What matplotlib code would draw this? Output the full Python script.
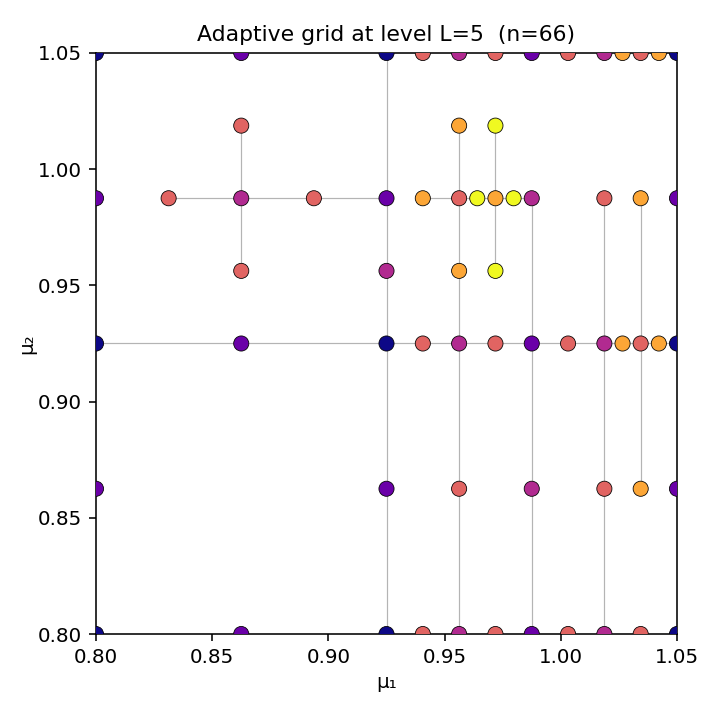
import matplotlib
matplotlib.use("Agg")
import matplotlib.pyplot as plt
import numpy as np

# grid points (mu1, mu2) and hierarchical level sum (colour)
mu1 = [
    # row mu2 = 1.05
    0.8, 0.8625, 0.925, 0.940625, 0.95625, 0.971875, 0.9875, 1.003125, 1.01875, 1.0265625, 1.034375, 1.0421875, 1.05,
    # row mu2 = 1.01875
    0.8625, 0.95625, 0.971875,
    # row mu2 = 0.9875
    0.8, 0.83125, 0.8625, 0.89375, 0.925, 0.940625, 0.95625, 0.9640625, 0.971875, 0.9796875, 0.9875, 1.01875, 1.034375, 1.05,
    # row mu2 = 0.95625
    0.8625, 0.925, 0.95625, 0.971875,
    # row mu2 = 0.925
    0.8, 0.8625, 0.925, 0.940625, 0.95625, 0.971875, 0.9875, 1.003125, 1.01875, 1.0265625, 1.034375, 1.0421875, 1.05,
    # row mu2 = 0.8625
    0.8, 0.925, 0.95625, 0.9875, 1.01875, 1.034375, 1.05,
    # row mu2 = 0.8
    0.8, 0.8625, 0.925, 0.940625, 0.95625, 0.971875, 0.9875, 1.003125, 1.01875, 1.034375, 1.05,
]
mu2 = (
    [1.05] * 13 + [1.01875] * 3 + [0.9875] * 14 + [0.95625] * 4
    + [0.925] * 13 + [0.8625] * 7 + [0.8] * 11
)
level = [
    2, 3, 2, 5, 4, 5, 3, 5, 4, 6, 5, 6, 2,
    5, 6, 7,
    3, 5, 4, 5, 3, 6, 5, 7, 6, 7, 4, 5, 6, 3,
    5, 4, 6, 7,
    2, 3, 2, 5, 4, 5, 3, 5, 4, 6, 5, 6, 2,
    3, 3, 5, 4, 5, 6, 3,
    2, 3, 2, 5, 4, 5, 3, 5, 4, 5, 2,
]

# refinement connections (x0, y0, x1, y1)
links = [
    (0.925, 0.8, 0.925, 1.05),
    (0.8625, 0.95625, 0.8625, 1.01875),
    (0.95625, 0.8, 0.95625, 1.01875),
    (0.971875, 0.95625, 0.971875, 1.01875),
    (0.9875, 0.8, 0.9875, 0.9875),
    (1.01875, 0.8, 1.01875, 0.9875),
    (1.034375, 0.8625, 1.034375, 0.9875),
    (0.83125, 0.9875, 0.925, 0.9875),
    (0.940625, 0.9875, 0.9875, 0.9875),
    (0.8, 0.925, 1.05, 0.925),
]

fig = plt.figure(figsize=(5, 5), dpi=143)
ax = fig.add_axes([96 / 715, 1 - 634 / 715, 581 / 715, 581 / 715])

for x0, y0, x1, y1 in links:
    ax.plot([x0, x1], [y0, y1], color="#b4b4b4", lw=0.6, zorder=1)

ax.scatter(mu1, mu2, c=level, cmap="plasma", vmin=2, vmax=7, s=58,
           edgecolors="black", linewidths=0.4, zorder=3)

ax.set_xlim(0.8, 1.05)
ax.set_ylim(0.8, 1.05)
ax.set_xticks([0.80, 0.85, 0.90, 0.95, 1.00, 1.05])
ax.set_yticks([0.80, 0.85, 0.90, 0.95, 1.00, 1.05])
ax.set_xlabel("μ₁", labelpad=3)
ax.set_ylabel("μ₂", labelpad=1)
ax.set_title("Adaptive grid at level L=5  (n=66)", fontsize=11)

fig.savefig("out.png", dpi=143)
